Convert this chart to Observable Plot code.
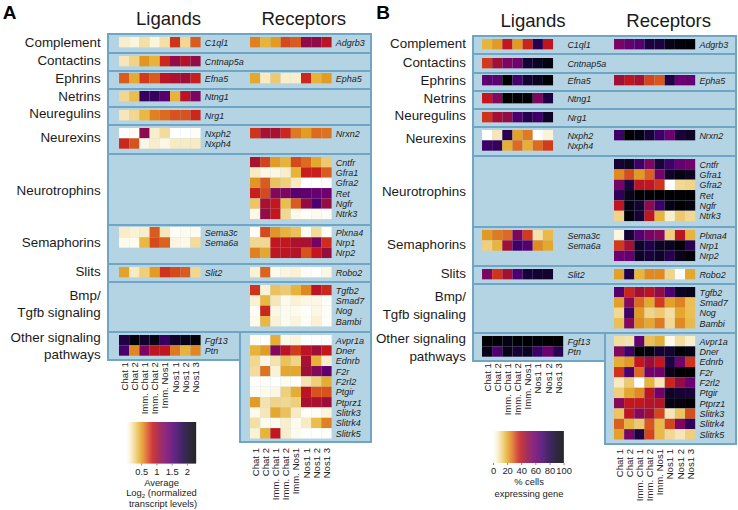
<!DOCTYPE html>
<html>
<head>
<meta charset="utf-8">
<script src="https://cdn.jsdelivr.net/npm/d3@7"></script>
<script src="https://cdn.jsdelivr.net/npm/@observablehq/plot@0.6"></script>
<style>
html,body{margin:0;padding:0;background:#fff;}
#fig{position:relative;width:738px;height:510px;overflow:hidden;font-family:"Liberation Sans",Arial,sans-serif;color:#1a1a1a;}
#fig svg{position:absolute;overflow:visible;background:transparent;}
.panel{position:absolute;box-sizing:border-box;background:#b4d4e4;border:2px solid #6fa6c6;}
.t{position:absolute;white-space:nowrap;line-height:1;}
.grp{font-size:13.4px;transform:translate(-100%,-50%);}
.ttl{font-size:18.6px;transform:translate(-50%,-50%);}
.let{font-size:19px;font-weight:bold;color:#000;transform:translate(-50%,-50%);}
.leg{font-size:9.4px;transform:translate(-50%,-50%);color:#222;}
.leg span{font-size:6.2px;position:relative;top:1.5px;line-height:0;}
</style>
</head>
<body>
<div id="fig"></div>
<script>
// ---------- categories ----------
const samples = ["Chat 1","Chat 2","Imm. Chat 1","Imm. Chat 2","Imm. Nos1","Nos1 1","Nos1 2","Nos1 3"];
const groupNames = ["Complement","Contactins","Ephrins","Netrins","Neuregulins","Neurexins","Neurotrophins","Semaphorins","Slits","Bmp/\nTgfb signaling","Other signaling\npathways"];
const ligandGenes = [["C1ql1"],["Cntnap5a"],["Efna5"],["Ntng1"],["Nrg1"],["Nxph2","Nxph4"],[],["Sema3c","Sema6a"],["Slit2"],[],["Fgf13","Ptn"]];
const receptorGenes = [["Adgrb3"],[],["Epha5"],[],[],["Nrxn2"],["Cntfr","Gfra1","Gfra2","Ret","Ngfr","Ntrk3"],["Plxna4","Nrp1","Nrp2"],["Robo2"],["Tgfb2","Smad7","Nog","Bambi"],["Avpr1a","Dner","Ednrb","F2r","F2rl2","Ptgir","Ptprz1","Slitrk3","Slitrk4","Slitrk5"]];

// ---------- panel A: average log2 transcript levels ----------
const aLigandValues = {
  C1ql1:[.14,.1,.22,.1,.22,.78,.26,.68],
  Cntnap5a:[.18,.28,.52,.42,.82,1.1,.95,1.1],
  Efna5:[.68,.45,.76,.68,.92,.98,1.05,.85],
  Ntng1:[.26,.38,1.7,1.7,1.5,.42,.92,1.25],
  Nrg1:[.18,.26,.4,.58,.64,.7,.7,.82],
  Nxph2:[0,.03,1.15,.14,.24,0,0,.03],
  Nxph4:[.82,.7,.08,.14,.08,.16,.16,.16],
  Sema3c:[.15,.12,.14,.68,.18,.03,.05,.05],
  Sema6a:[.05,.05,.4,.72,.66,.09,.07,.24],
  Slit2:[.48,.16,.3,.5,.78,.72,.68,.26],
  Fgf13:[1.85,2.25,2,2.15,1.7,2,2.1,2.25],
  Ptn:[1.6,.56,1.25,.9,.9,.6,.42,.56]
};
const aReceptorValues = {
  Adgrb3:[.58,.42,.5,.72,.68,1.12,1.12,.92],
  Epha5:[.46,.16,.32,.14,.14,.82,.42,.5],
  Nrxn2:[.78,1,1,.82,.6,.5,.64,.62],
  Cntfr:[1,.74,.5,.42,.72,.64,.46,.32],
  Gfra1:[.16,.08,.08,.14,.42,.85,.85,.68],
  Gfra2:[.52,.68,.36,.3,.16,0,.01,.01],
  Ret:[.85,.72,1.2,1.25,1.5,1.45,1.4,1.35],
  Ngfr:[.34,1,.88,.38,.68,1.1,1.55,1.08],
  Ntrk3:[.07,1.1,.88,.26,.07,.02,.05,.02],
  Plxna4:[.03,.72,.52,.42,.36,.05,.24,.03],
  Nrp1:[.26,.26,.88,.88,.98,1,1.3,.8],
  Nrp2:[.58,.46,.9,.9,.95,.7,.88,1.08],
  Robo2:[.12,.66,.06,.1,.12,.03,0,.08],
  Tgfb2:[.78,.12,.36,.32,.42,.56,.92,.82],
  Smad7:[.12,.4,.18,.06,.12,.08,.08,.02],
  Nog:[.03,.82,.08,.05,.05,.02,.08,.02],
  Bambi:[.06,.4,.12,.05,.1,.03,.12,.02],
  Avpr1a:[.04,.01,.44,.07,.1,0,.01,0],
  Dner:[.42,.5,1.2,.92,.76,.92,1.05,.88],
  Ednrb:[.26,.08,.2,.36,.28,1,.42,.14],
  F2r:[.24,.62,.12,.46,.46,1.05,1.2,1.45],
  F2rl2:[.01,.03,0,.05,.01,.2,.3,.44],
  Ptgir:[.03,.05,.08,.3,.44,.92,.7,.7],
  Ptprz1:[.5,.2,.28,.26,.3,1,1,1.05],
  Slitrk3:[.06,.18,.46,.36,.16,.02,.03,.1],
  Slitrk4:[.22,.05,.05,.14,.05,.16,.38,.58],
  Slitrk5:[.12,.42,.88,.14,.05,.01,.01,.02]
};

// ---------- panel B: % cells expressing gene (seven ligand samples in the upper rows) ----------
const bLigandValues = {
  C1ql1:[18,22,38,22,36,78,39],
  Cntnap5a:[33,45,54,58,85,90,95],
  Efna5:[64,64,100,70,85,90,98],
  Ntng1:[38,52,100,98,98,54,82],
  Nrg1:[34,44,48,68,78,72,88],
  Nxph2:[0,8,78,21,26,0,5],
  Nxph4:[72,75,19,28,19,28,33],
  Sema3c:[22,26,28,54,33,9,17],
  Sema6a:[13,18,45,72,66,24,20],
  Slit2:[55,34,44,68,84,86,86],
  Fgf13:[98,99,94,98,99,98,99,100],
  Ptn:[93,68,92,85,90,72,60,78]
};
const bReceptorValues = {
  Adgrb3:[56,62,66,82,82,93,96,98],
  Epha5:[45,39,43,32,30,80,60,62],
  Nrxn2:[72,98,94,84,72,60,84,88],
  Cntfr:[85,90,72,54,84,72,62,58],
  Gfra1:[24,31,22,29,57,88,94,90],
  Gfra2:[57,82,40,38,34,0,11,12],
  Ret:[76,92,100,98,100,99,99,100],
  Ngfr:[39,94,86,50,72,94,99,95],
  Ntrk3:[12,98,85,39,18,6,14,11],
  Plxna4:[4,85,66,56,52,13,39,18],
  Nrp1:[33,44,88,80,90,90,97,78],
  Nrp2:[60,62,88,84,88,78,92,98],
  Robo2:[21,80,18,24,24,12,1,20],
  Tgfb2:[66,36,44,40,48,68,90,92],
  Smad7:[21,52,28,20,33,21,25,16],
  Nog:[11,72,22,12,14,10,20,16],
  Bambi:[16,52,24,20,26,11,24,17],
  Avpr1a:[10,9,62,16,19,3,10,6],
  Dner:[52,72,100,96,86,86,98,94],
  Ednrb:[19,22,38,46,38,82,58,34],
  F2r:[34,68,28,58,58,92,100,99],
  F2rl2:[7,14,0,18,8,36,48,60],
  Ptgir:[13,20,24,40,58,88,85,84],
  Ptprz1:[52,38,38,41,41,94,95,98],
  Slitrk3:[15,39,52,44,32,8,15,31],
  Slitrk4:[29,18,14,30,17,32,54,76],
  Slitrk5:[21,56,82,32,17,11,8,13]
};

// ---------- colour ramp (fraction of the scale -> colour) ----------
const rampStops = [0,.05,.12,.18,.22,.28,.33,.38,.45,.52,.6,.7,.8,.9,1];
const rampColors = ["#ffffff","#fbf3d8","#f0d48a","#e8b53c","#e29a22","#dc6a20","#d23a1c","#c4161e","#a00f35","#85085a","#6c0070","#45006e","#220048","#0c0420","#000000"];

// ---------- page layout (separate from the data) ----------
const layoutA = {
  left:107, right:372, split:239, ligX:118.7, recX:250, cellW:10.2, rowH:10.35,
  panelTops:[33,51.5,70,88,106,124,153,223.5,262.5,280.5,331],
  lowerBottoms:[361,443],
  heatTops:[36.8,55.6,73.4,91.3,109.9,128.4,157,227.3,267.3,285,335],
  labelY:[42.7,61,79,97.3,114.3,137.7,190.7,243.3,272.3,295.7,337.7],
  labelLine:17.6, labelRight:100.7, letterX:9.5, letterY:11.5,
  titleY:19.3, ligTitleX:168.5, recTitleX:303.8, max:2.3
};
const layoutB = {
  left:472, right:737, split:603.5, ligX:482.4, recX:614.4, cellW:10.15, rowH:10.35,
  panelTops:[34.5,53,71.5,89.5,107.8,126,154.5,225.5,264.5,282.5,331.5],
  lowerBottoms:[362,445],
  heatTops:[38.8,57.5,75.3,93.3,111.8,130,159,230,269.3,286.7,336],
  labelY:[44.3,62.5,80.5,98.8,115.8,139.2,192.2,244.8,273.8,297.2,339.2],
  labelLine:17.6, labelRight:466, letterX:383, letterY:11.5,
  titleY:21, ligTitleX:533, recTitleX:668.7, max:100
};

const fig = document.getElementById("fig");

function addText(cls, x, y, html) {
  const d = document.createElement("div");
  d.className = "t " + cls;
  d.style.left = x + "px";
  d.style.top = y + "px";
  d.innerHTML = html;
  fig.appendChild(d);
}
function addPanel(l, t, r, b) {
  const d = document.createElement("div");
  d.className = "panel";
  Object.assign(d.style, {left:l+"px", top:t+"px", width:(r-l)+"px", height:(b-t)+"px"});
  fig.appendChild(d);
}
function place(svg, left, top) {
  svg.style.left = left + "px";
  svg.style.top = top + "px";
  fig.appendChild(svg);
}

function heatBlock(L, genes, values, left, top, withSampleAxis, axisPad) {
  const cells = genes.flatMap(g => samples.map((s, i) => ({gene:g, sample:s, value:values[g][i]})))
    .filter(d => d.value !== undefined);
  const marks = [
    Plot.cell(cells, {x:"sample", y:"gene", fill:"value"}),
    Plot.axisY({anchor:"right", label:null, tickSize:0, tickPadding:3.7, fontSize:9, fontStyle:"italic", fill:"#222"})
  ];
  if (withSampleAxis) {
    marks.push(Plot.axisX({anchor:"bottom", label:null, tickSize:0, tickPadding:axisPad, tickRotate:-90, fontSize:9.6, fill:"#222"}));
  }
  const svg = Plot.plot({
    width: L.cellW * 8 + 55,
    height: L.rowH * genes.length + (withSampleAxis ? 60 : 0),
    marginLeft:0, marginTop:0, marginRight:55, marginBottom: withSampleAxis ? 60 : 0,
    style:{fontFamily:'"Liberation Sans",Arial,sans-serif', background:"transparent", overflow:"visible"},
    x:{type:"band", domain:samples, padding:0, round:false, axis:null},
    y:{type:"band", domain:genes, padding:0, round:false, axis:null},
    color:{type:"linear", domain:rampStops.map(t => t * L.max), range:rampColors, interpolate:"rgb", clamp:true},
    marks
  });
  place(svg, left, top);
}

function legend(L, ticks, fmt, left, top, w, h) {
  const steps = d3.range(0, L.max, L.max / 140);
  const stepW = L.max / 140;
  const svg = Plot.plot({
    width:w, height:h + 18, marginLeft:0, marginRight:0, marginTop:0, marginBottom:18,
    style:{fontFamily:'"Liberation Sans",Arial,sans-serif', background:"transparent", overflow:"visible"},
    x:{domain:[0, L.max], axis:null},
    y:{axis:null},
    color:{type:"linear", domain:rampStops.map(t => t * L.max), range:rampColors, interpolate:"rgb", clamp:true},
    marks:[
      Plot.rectY(steps, {x1:d => d, x2:d => d + stepW * 1.3, y1:0, y2:1, fill:d => d}),
      Plot.axisX({anchor:"bottom", label:null, ticks, tickFormat:fmt, tickSize:2, tickPadding:2, fontSize:9.4, stroke:"#888", fill:"#222"})
    ]
  });
  place(svg, left, top);
}

function drawPanel(L, letter, ligVals, recVals, lowerAxisPadLig, lowerAxisPadRec) {
  const n = groupNames.length;
  // blue backgrounds
  groupNames.forEach((g, i) => {
    if (i < n - 1) addPanel(L.left, L.panelTops[i], L.right, L.panelTops[i + 1] + 2);
  });
  addPanel(L.left, L.panelTops[n - 1], L.split + 2, L.lowerBottoms[0]);
  addPanel(L.split, L.panelTops[n - 1], L.right, L.lowerBottoms[1]);

  // heat blocks
  groupNames.forEach((g, i) => {
    const last = i === n - 1;
    if (ligandGenes[i].length) heatBlock(L, ligandGenes[i], ligVals, L.ligX, L.heatTops[i], last, lowerAxisPadLig);
    if (receptorGenes[i].length) heatBlock(L, receptorGenes[i], recVals, L.recX, L.heatTops[i], last, lowerAxisPadRec);
    g.split("\n").forEach((line, k) => addText("grp", L.labelRight, L.labelY[i] + k * L.labelLine, line));
  });

  addText("let", L.letterX, L.letterY, letter);
  addText("ttl", L.ligTitleX, L.titleY, "Ligands");
  addText("ttl", L.recTitleX, L.titleY, "Receptors");
}

drawPanel(layoutA, "A", aLigandValues, aReceptorValues, 6, 9);
drawPanel(layoutB, "B", bLigandValues, bReceptorValues, 6, 9);

legend(layoutA, [.5,1,1.5,2], d3.format("~g"), 126, 422.3, 70, 41.5);
addText("leg", 161.5, 482.5, "Average");
addText("leg", 161.5, 493, "Log<span>2</span> (normalized");
addText("leg", 163, 503.5, "transcript levels)");

legend(layoutB, [0,20,40,60,80,100], d3.format("d"), 492.7, 430.7, 70.6, 32);
addText("leg", 529, 481.7, "% cells");
addText("leg", 529, 494, "expressing gene");
</script>
</body>
</html>
